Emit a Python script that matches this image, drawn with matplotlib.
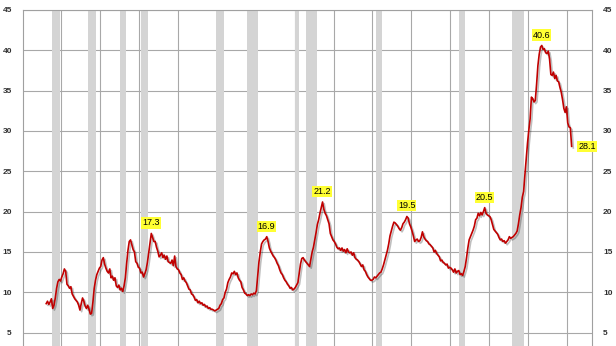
"""
Average duration of unemployment (weeks), 1948-2015, with recession shading.
"""
import matplotlib
matplotlib.use("Agg")
import matplotlib.pyplot as plt
import matplotlib.patheffects as pe
import numpy as np

# ---- data: bi-monthly readings (Jan, Mar, May, Jul, Sep, Nov) ----
START_YEAR = 1948
weeks = [
    8.6, 8.9, 8.5, 8.8, 9.2, 8.0,        # 1948
    8.4, 9.3, 10.5, 11.3, 11.6, 11.4,    # 1949
    11.9, 12.3, 12.9, 12.6, 11.0, 10.8,  # 1950
    10.5, 10.7, 9.8, 9.5, 9.2, 9.0,      # 1951
    8.8, 8.4, 7.8, 8.6, 9.3, 8.9,        # 1952
    8.3, 8.0, 8.4, 7.9, 7.3, 7.4,        # 1953
    8.8, 10.5, 11.5, 12.2, 12.6, 13.0,   # 1954
    13.2, 14.0, 14.3, 13.5, 13.0, 12.6,  # 1955
    12.4, 12.9, 11.8, 12.0, 11.5, 11.8,  # 1956
    10.8, 10.6, 10.9, 10.3, 10.5, 10.1,  # 1957
    10.8, 11.8, 13.6, 15.2, 16.3, 16.5,  # 1958
    15.9, 15.3, 15.0, 13.8, 13.6, 13.1,  # 1959
    13.0, 12.4, 12.5, 11.9, 12.3, 12.8,  # 1960
    13.7, 14.9, 16.2, 17.3, 16.8, 16.3,  # 1961
    16.3, 15.6, 15.1, 14.4, 14.6, 14.9,  # 1962
    14.3, 14.6, 14.1, 14.5, 13.8, 13.7,  # 1963
    13.6, 14.0, 13.3, 14.5, 13.2, 12.9,  # 1964
    12.8, 12.4, 12.2, 11.6, 11.8, 11.4,  # 1965
    11.2, 10.8, 10.4, 10.3, 9.8, 9.7,    # 1966
    9.4, 9.0, 9.1, 8.7, 8.9, 8.6,        # 1967
    8.7, 8.4, 8.5, 8.2, 8.3, 8.0,        # 1968
    8.1, 7.9, 7.9, 7.8, 7.7, 7.8,        # 1969
    7.9, 8.0, 8.4, 8.6, 9.1, 9.3,        # 1970
    10.0, 10.4, 11.2, 11.6, 11.9, 12.4,  # 1971
    12.3, 12.6, 12.2, 12.4, 11.8, 11.5,  # 1972
    11.3, 10.6, 10.3, 9.9, 9.8, 9.6,     # 1973
    9.7, 9.6, 9.8, 9.7, 9.9, 9.8,        # 1974
    10.2, 12.0, 13.8, 15.0, 16.0, 16.3,  # 1975
    16.5, 16.6, 16.9, 16.3, 15.5, 15.1,  # 1976
    14.8, 14.5, 14.3, 14.0, 13.6, 13.3,  # 1977
    12.8, 12.4, 12.2, 11.8, 11.5, 11.3,  # 1978
    11.0, 10.8, 10.5, 10.6, 10.3, 10.4,  # 1979
    10.6, 10.9, 11.2, 12.4, 13.5, 14.2,  # 1980
    14.3, 14.0, 13.8, 13.6, 13.4, 13.2,  # 1981
    14.1, 15.0, 15.6, 16.5, 17.4, 18.4,  # 1982
    19.0, 19.8, 20.5, 21.2, 20.3, 19.8,  # 1983
    19.5, 19.0, 18.5, 17.3, 16.9, 16.5,  # 1984
    16.3, 16.0, 15.6, 15.4, 15.5, 15.2,  # 1985
    15.5, 15.1, 15.3, 14.9, 15.4, 15.0,  # 1986
    14.9, 15.0, 14.6, 14.9, 14.3, 14.1,  # 1987
    14.0, 13.8, 13.5, 13.2, 13.4, 12.8,  # 1988
    12.6, 12.2, 11.9, 11.7, 11.5, 11.5,  # 1989
    11.6, 11.9, 11.8, 12.0, 12.2, 12.4,  # 1990
    12.5, 12.9, 13.4, 14.0, 14.6, 15.2,  # 1991
    16.0, 17.0, 17.6, 18.2, 18.7, 18.6,  # 1992
    18.4, 18.2, 17.9, 17.7, 18.0, 18.5,  # 1993
    18.7, 19.0, 19.4, 19.2, 18.5, 18.1,  # 1994
    17.6, 17.0, 16.3, 16.5, 16.6, 16.3,  # 1995
    16.4, 16.8, 17.5, 16.9, 16.6, 16.4,  # 1996
    16.3, 16.0, 15.9, 15.7, 15.5, 15.0,  # 1997
    15.2, 14.8, 14.6, 14.4, 13.9, 14.0,  # 1998
    13.7, 13.6, 13.4, 13.5, 13.0, 13.1,  # 1999
    13.0, 12.8, 12.5, 12.9, 12.4, 12.6,  # 2000
    12.7, 12.2, 12.3, 12.1, 12.6, 13.2,  # 2001
    14.3, 15.5, 16.5, 16.9, 17.3, 17.7,  # 2002
    18.2, 19.0, 19.2, 19.8, 19.5, 19.9,  # 2003
    19.6, 20.0, 20.5, 19.8, 19.6, 19.5,  # 2004
    19.4, 19.0, 18.4, 17.8, 17.6, 17.4,  # 2005
    17.2, 16.8, 16.5, 16.6, 16.3, 16.4,  # 2006
    16.1, 16.3, 16.5, 16.9, 16.7, 16.8,  # 2007
    16.9, 17.1, 17.3, 17.6, 18.5, 19.6,  # 2008
    20.5, 21.8, 22.5, 24.6, 26.5, 28.5,  # 2009
    30.1, 31.5, 34.2, 34.0, 33.6, 33.8,  # 2010
    35.8, 38.1, 39.5, 40.4, 40.6, 40.1,  # 2011
    40.2, 39.7, 39.6, 39.9, 38.9, 37.0,  # 2012
    36.9, 37.3, 36.5, 36.9, 36.2, 36.1,  # 2013
    35.4, 34.8, 33.9, 32.8, 32.3, 33.0,  # 2014
    31.0, 30.5, 30.4, 28.1,              # 2015
]

# NBER recessions: (start year, start month, end year, end month)
recessions = [
    (1948, 11, 1949, 10), (1953, 7, 1954, 5), (1957, 8, 1958, 4),
    (1960, 4, 1961, 2), (1969, 12, 1970, 11), (1973, 11, 1975, 3),
    (1980, 1, 1980, 7), (1981, 7, 1982, 11), (1990, 7, 1991, 3),
    (2001, 3, 2001, 11), (2007, 12, 2009, 6),
]

# labelled points: (decimal year, value)
peak_years = [1961.54, 1976.38, 1983.54, 1994.38, 2004.38, 2011.71]
peak_values = [17.3, 16.9, 21.2, 19.5, 20.5, 40.6]
y_ticks = [5, 10, 15, 20, 25, 30, 35, 40, 45]
x_grid = list(range(1950, 2016, 5))

years = START_YEAR + np.arange(len(weeks)) / 6 + 1 / 12


def main():
    fig = plt.figure(figsize=(6.16, 3.46), dpi=100)
    # axes run past the bottom of the canvas (the source crop cuts off 0-5)
    ax = fig.add_axes([23 / 616, 1 - 373 / 346, 569 / 616, 363 / 346])

    for y0, m0, y1, m1 in recessions:
        ax.axvspan(y0 + (m0 - 1) / 12, y1 + m1 / 12, color="#d4d4d4", lw=0, zorder=1)

    for g in x_grid:
        ax.axvline(g, color="#a8a8a8", lw=0.8, zorder=0.5)
    ax.set_yticks(y_ticks)
    ax.yaxis.grid(True, color="#a8a8a8", lw=0.8)
    ax.set_axisbelow(True)

    ax.plot(years, weeks, color="#c00000", lw=1.2, zorder=3,
            path_effects=[pe.SimpleLineShadow(offset=(1.2, -1.2), alpha=0.25),
                          pe.Normal()])

    box = dict(boxstyle="square,pad=0.12", fc="#ffff33", ec="none")
    for px, pv in zip(peak_years, peak_values):
        ax.text(px, pv + 1.3, f"{pv:.1f}", ha="center", va="center",
                fontsize=6.5, family="Liberation Sans", bbox=box, zorder=4)
    ax.text(years[-1] + 2.0, weeks[-1], f"{weeks[-1]:.1f}", ha="center",
            va="center", fontsize=6.5, family="Liberation Sans", bbox=box, zorder=4)

    ax.set_xlim(1945.1, 2018.2)
    ax.set_ylim(0, 45)
    ax.set_xticks([])
    ax.tick_params(axis="y", length=0, labelright=True, pad=8,
                   labelsize=6.0, labelcolor="#303030")
    for lab in ax.get_yticklabels():
        lab.set_fontweight("bold")
        lab.set_family("Liberation Sans")
    for side in ("left", "right", "top"):
        ax.spines[side].set_color("#a0a0a0")
        ax.spines[side].set_linewidth(0.8)
    ax.spines["bottom"].set_visible(False)

    fig.savefig("out.png", dpi=100)
    plt.close(fig)


if __name__ == "__main__":
    main()
